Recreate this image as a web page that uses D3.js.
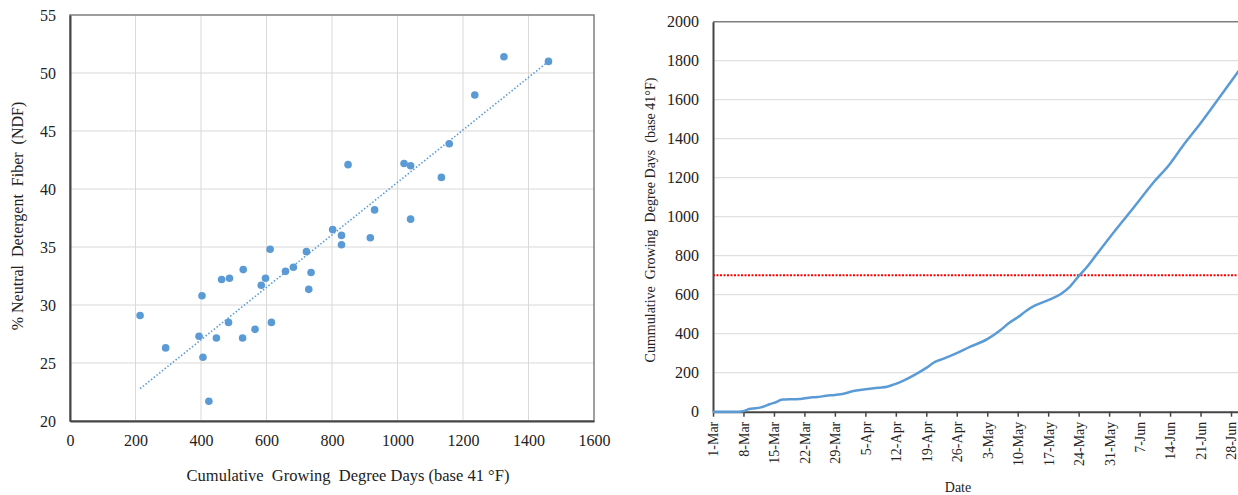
<!DOCTYPE html>
<html>
<head>
<meta charset="utf-8">
<script src="https://cdn.jsdelivr.net/npm/d3@7"></script>
<style>
  body { margin: 0; background: #fff; }
  svg { display: block; }
  svg text { font-family: "Liberation Serif", "Times New Roman", serif; fill: #222; }
  .grid line { stroke: #d9d9d9; stroke-width: 1; }
</style>
</head>
<body>
<svg width="1238" height="495"></svg>
<script>
// left panel: NDF vs cumulative GDD
const gddValues = [214, 292, 394, 403, 406, 424, 447, 463, 487, 484, 529, 527, 565, 584, 597, 611,
  615, 658, 682, 722, 736, 729, 802, 829, 829, 917, 849, 930, 1020, 1040, 1040, 1134, 1158, 1236, 1325, 1461];
const ndfValues = [29.1, 26.3, 27.3, 30.8, 25.5, 21.7, 27.15, 32.2, 32.3, 28.5, 33.05, 27.15, 27.9, 31.7, 32.3, 34.8,
  28.5, 32.9, 33.25, 34.6, 32.8, 31.35, 36.5, 36.0, 35.2, 35.8, 42.1, 38.2, 42.2, 42.0, 37.4, 41.0, 43.9, 48.1, 51.4, 51.0];
const leftXTicks = [0, 200, 400, 600, 800, 1000, 1200, 1400, 1600];
const leftYTicks = [20, 25, 30, 35, 40, 45, 50, 55];
// linear trendline (NDF = a + b * GDD)
const trendIntercept = 17.95;
const trendSlope = 0.02262;

// right panel: cumulative GDD by date
const gddDates = ["1-Mar", "4-Mar", "7-Mar", "8-Mar", "9-Mar", "10-Mar", "12-Mar", "14-Mar", "15-Mar", "17-Mar",
  "19-Mar", "21-Mar", "23-Mar", "25-Mar", "27-Mar", "29-Mar", "31-Mar", "2-Apr", "5-Apr", "8-Apr", "10-Apr",
  "12-Apr", "14-Apr", "16-Apr", "19-Apr", "21-Apr", "23-Apr", "26-Apr", "29-Apr", "3-May", "6-May", "8-May",
  "10-May", "12-May", "14-May", "17-May", "20-May", "22-May", "24-May", "26-May", "28-May", "31-May", "3-Jun",
  "5-Jun", "7-Jun", "10-Jun", "14-Jun", "17-Jun", "21-Jun", "24-Jun", "28-Jun", "30-Jun"];
const gddCumulative = [0, 0, 0, 2, 12, 16, 22, 38, 45, 62,
  64, 65, 72, 75, 82, 86, 92, 105, 115, 123, 128,
  143, 162, 185, 225, 255, 272, 300, 332, 372, 418, 455,
  484, 518, 545, 572, 605, 642, 695, 745, 803, 890, 974,
  1029, 1086, 1170, 1272, 1365, 1479, 1570, 1693, 1755];
const dateTicks = ["1-Mar", "8-Mar", "15-Mar", "22-Mar", "29-Mar", "5-Apr", "12-Apr", "19-Apr", "26-Apr",
  "3-May", "10-May", "17-May", "24-May", "31-May", "7-Jun", "14-Jun", "21-Jun", "28-Jun"];
const rightYTicks = [0, 200, 400, 600, 800, 1000, 1200, 1400, 1600, 1800, 2000];
const thresholdGdd = 700;

const blue = "#5b9bd5";
const svg = d3.select("svg");

// ---------- left chart ----------
const L = { left: 70, right: 594, top: 15, bottom: 421 };
const lx = d3.scaleLinear().domain([0, 1600]).range([L.left, L.right]);
const ly = d3.scaleLinear().domain([20, 55]).range([L.bottom, L.top]);

const lg = svg.append("g");
lg.append("g").attr("class", "grid")
  .selectAll("line").data(leftXTicks.slice(1, -1)).join("line")
  .attr("x1", d => lx(d)).attr("x2", d => lx(d))
  .attr("y1", L.top).attr("y2", L.bottom);
lg.append("g").attr("class", "grid")
  .selectAll("line").data(leftYTicks.slice(1, -1)).join("line")
  .attr("y1", d => ly(d)).attr("y2", d => ly(d))
  .attr("x1", L.left).attr("x2", L.right);

// plot frame
lg.append("rect")
  .attr("x", L.left).attr("y", L.top)
  .attr("width", L.right - L.left).attr("height", L.bottom - L.top)
  .attr("fill", "none").attr("stroke", "#7f7f7f").attr("stroke-width", 1.5);

const lxAxis = lg.append("g")
  .attr("transform", `translate(0,${L.bottom})`)
  .call(d3.axisBottom(lx).tickValues(leftXTicks).tickFormat(d3.format("d")).tickSize(0).tickPadding(14));
const lyAxis = lg.append("g")
  .attr("transform", `translate(${L.left},0)`)
  .call(d3.axisLeft(ly).tickValues(leftYTicks).tickFormat(d3.format("d")).tickSize(0).tickPadding(14));
[lxAxis, lyAxis].forEach(a => {
  a.select(".domain").attr("stroke", "#444").attr("stroke-width", 2);
  a.selectAll("text").attr("font-size", 16);
});

const xExt = d3.extent(gddValues);
lg.append("line")
  .attr("x1", lx(xExt[0])).attr("y1", ly(trendIntercept + trendSlope * xExt[0]))
  .attr("x2", lx(xExt[1])).attr("y2", ly(trendIntercept + trendSlope * xExt[1]))
  .attr("stroke", blue).attr("stroke-width", 1.6)
  .attr("stroke-dasharray", "1.5 2");

lg.append("g").selectAll("circle")
  .data(gddValues.map((v, i) => [v, ndfValues[i]]))
  .join("circle")
  .attr("cx", d => lx(d[0])).attr("cy", d => ly(d[1]))
  .attr("r", 3.8).attr("fill", blue);

lg.append("text")
  .attr("x", 348).attr("y", 481)
  .attr("text-anchor", "middle").attr("font-size", 16.5)
  .attr("xml:space", "preserve")
  .text("Cumulative  Growing  Degree Days (base 41 \u00B0F)");
lg.append("text")
  .attr("transform", "translate(23,216) rotate(-90)")
  .attr("text-anchor", "middle").attr("font-size", 16)
  .attr("xml:space", "preserve")
  .text("% Neutral  Detergent  Fiber  (NDF)");

// ---------- right chart ----------
const parseDay = d3.timeParse("%e-%b");
const R = { left: 713, top: 21.7, bottom: 411.7 };
const rx = d3.scaleTime()
  .domain([parseDay("1-Mar"), parseDay("30-Jun")])
  .range([R.left, R.left + 121 * 4.353]);
const ry = d3.scaleLinear().domain([0, 2000]).range([R.bottom, R.top]);
const R_right = rx.range()[1];

const rg = svg.append("g");
rg.append("g").attr("class", "grid")
  .selectAll("line").data(rightYTicks.slice(1, -1)).join("line")
  .attr("y1", d => ry(d)).attr("y2", d => ry(d))
  .attr("x1", R.left).attr("x2", R_right);
rg.append("line")
  .attr("x1", R.left).attr("x2", R_right)
  .attr("y1", R.top).attr("y2", R.top)
  .attr("stroke", "#7f7f7f").attr("stroke-width", 1.5);

const ryAxis = rg.append("g")
  .attr("transform", `translate(${R.left},0)`)
  .call(d3.axisLeft(ry).tickValues(rightYTicks).tickFormat(d3.format("d")).tickSize(0).tickPadding(14));
ryAxis.select(".domain").attr("stroke", "#444").attr("stroke-width", 2);
ryAxis.selectAll("text").attr("font-size", 16);

const rxAxis = rg.append("g")
  .attr("transform", `translate(0,${R.bottom})`)
  .call(d3.axisBottom(rx)
    .tickValues(dateTicks.map(parseDay))
    .tickFormat(d3.timeFormat("%-d-%b"))
    .tickSize(5).tickSizeOuter(0));
rxAxis.select(".domain").attr("stroke", "#444").attr("stroke-width", 2);
rxAxis.selectAll(".tick line").attr("stroke", "#444").attr("stroke-width", 1.5);
rxAxis.selectAll("text")
  .attr("font-size", 14)
  .attr("text-anchor", "end")
  .attr("transform", "rotate(-90)")
  .attr("x", -10).attr("y", 0).attr("dy", "0.35em");

rg.append("line")
  .attr("x1", R.left).attr("x2", R_right)
  .attr("y1", ry(thresholdGdd)).attr("y2", ry(thresholdGdd))
  .attr("stroke", "#ff0000").attr("stroke-width", 2)
  .attr("stroke-dasharray", "2 1.5");

const series = gddDates.map((d, i) => ({ date: parseDay(d), value: gddCumulative[i] }));
rg.append("path")
  .datum(series)
  .attr("fill", "none").attr("stroke", blue).attr("stroke-width", 2.5)
  .attr("d", d3.line().x(d => rx(d.date)).y(d => ry(d.value)).curve(d3.curveMonotoneX));

rg.append("text")
  .attr("transform", "translate(655,220) rotate(-90)")
  .attr("text-anchor", "middle").attr("font-size", 14)
  .attr("xml:space", "preserve")
  .text("Cummulative  Growing  Degree Days  (base 41\u00B0F)");
rg.append("text")
  .attr("x", 958).attr("y", 492)
  .attr("text-anchor", "middle").attr("font-size", 14)
  .text("Date");
</script>
</body>
</html>
